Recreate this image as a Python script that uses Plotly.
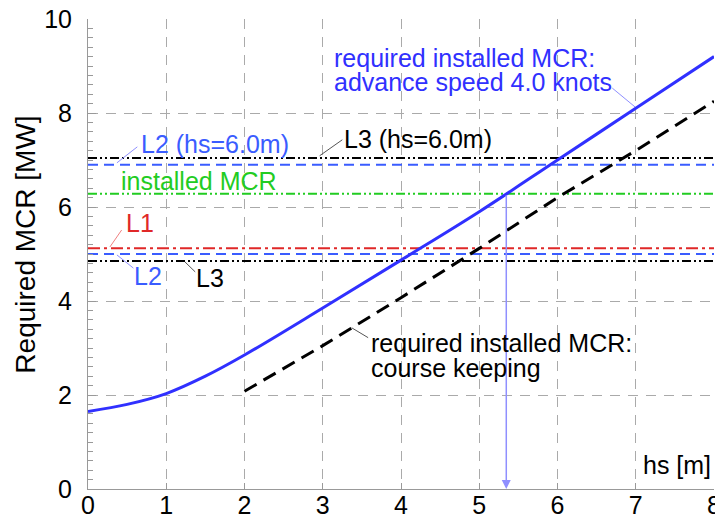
import numpy as np
import plotly.graph_objects as go

# ---- data ----
hs_adv = [0, 0.5, 1.0, 1.5, 2.0, 3.0, 4.0, 5.0, 6.0, 7.0, 8.0]
mcr_adv = [1.65, 1.80, 2.03, 2.40, 2.85, 3.85, 4.87, 5.90, 7.00, 8.10, 9.20]
hs_ck = [2.0, 3.0, 4.0, 5.0, 6.0, 7.0, 8.0]
mcr_ck = [2.08, 3.05, 4.07, 5.12, 6.20, 7.20, 8.25]

installed_mcr = 6.28
L1 = 5.12
L2 = 5.00
L3 = 4.85
L2_hs6 = 6.90
L3_hs6 = 7.04

x_ticks = [0, 1, 2, 3, 4, 5, 6, 7, 8]
y_ticks = [0, 2, 4, 6, 8, 10]

FONT = "Liberation Sans"
BLUE = "#3030ff"
BLUE_D = "#3a5cff"
RED = "#e02828"
GREEN = "#22cc22"
BLACK = "#000000"
GRID = "#aaaaaa"

fig = go.Figure()

def hline(v, color, dash, width=2):
    fig.add_trace(go.Scatter(x=[0, 8], y=[v, v], mode="lines",
                             line=dict(color=color, dash=dash, width=width),
                             showlegend=False, hoverinfo="skip"))

hline(L3_hs6, BLACK, "9px,3px,2px,3px,2px,3px")
hline(L2_hs6, BLUE_D, "10px,6px")
hline(installed_mcr, GREEN, "9px,3px,2px,3px,2px,3px")
hline(L1, RED, "12px,4px,3px,4px")
hline(L2, BLUE_D, "10px,6px")
hline(L3, BLACK, "9px,3px,2px,3px,2px,3px")

fig.add_trace(go.Scatter(x=hs_ck, y=mcr_ck, mode="lines",
                         line=dict(color=BLACK, dash="14px,8px", width=3),
                         showlegend=False, hoverinfo="skip"))
fig.add_trace(go.Scatter(x=hs_adv, y=mcr_adv, mode="lines",
                         line=dict(color=BLUE, width=3, shape="spline"),
                         showlegend=False, hoverinfo="skip"))

# intersection of required MCR (advance speed) with installed MCR
hs_cross = float(np.interp(installed_mcr, mcr_adv, hs_adv))
fig.add_annotation(x=hs_cross, y=0, ax=hs_cross, ay=installed_mcr,
                   xref="x", yref="y", axref="x", ayref="y", text="",
                   showarrow=True, arrowhead=2, arrowsize=1.2, arrowwidth=1.5,
                   arrowcolor="#8f8fff")

# text labels: (text, x, y, color)
labels = [
    ("required installed MCR:", 3.13, 9.18, BLUE),
    ("advance speed 4.0 knots", 3.13, 8.66, BLUE),
    ("L2 (hs=6.0m)", 0.66, 7.34, BLUE_D),
    ("L3 (hs=6.0m)", 3.26, 7.45, BLACK),
    ("installed MCR", 0.41, 6.55, GREEN),
    ("L1", 0.47, 5.66, RED),
    ("L2", 0.58, 4.53, BLUE_D),
    ("L3", 1.37, 4.49, BLACK),
    ("required installed MCR:", 3.60, 3.11, BLACK),
    ("course keeping", 3.60, 2.58, BLACK),
    ("hs [m]", 7.08, 0.52, BLACK),
]
for t, x, y, c in labels:
    fig.add_annotation(x=x, y=y, xref="x", yref="y", text=t, showarrow=False,
                       xanchor="left", yanchor="middle", borderpad=0,
                       font=dict(family=FONT, size=25, color=c))

# leader lines: (x0, y0, x1, y1, color)
leaders = [
    (6.70, 8.53, 6.99, 8.13, "#8f8fff"),
    (0.37, 6.94, 0.63, 7.28, "#8f8fff"),
    (2.96, 7.09, 3.25, 7.43, "#555555"),
    (0.28, 5.15, 0.43, 5.51, "#f08080"),
    (0.37, 4.98, 0.58, 4.70, "#8f8fff"),
    (1.24, 4.83, 1.37, 4.62, "#555555"),
    (3.37, 3.43, 3.58, 3.22, "#555555"),
]
for x0, y0, x1, y1, c in leaders:
    fig.add_shape(type="line", x0=x0, y0=y0, x1=x1, y1=y1, xref="x", yref="y",
                  line=dict(color=c, width=1))

fig.add_annotation(x=-0.099, y=0.52, xref="paper", yref="paper",
                   text="Required MCR [MW]", showarrow=False, textangle=-90,
                   xanchor="center", yanchor="middle",
                   font=dict(family=FONT, size=28, color=BLACK))

# page body has an 8px margin, so the figure is sized/offset accordingly
fig.update_layout(
    width=715, height=510,
    margin=dict(l=80, r=9, t=11, b=29),
    paper_bgcolor="white", plot_bgcolor="white",
    font=dict(family=FONT, size=25, color=BLACK),
    showlegend=False,
)
fig.update_xaxes(range=[0, 8], tickvals=x_ticks, ticktext=[str(v) for v in x_ticks],
                 showgrid=True, gridcolor=GRID, griddash="10px,8px", gridwidth=1,
                 showline=True, linecolor="#999999", linewidth=1,
                 ticks="inside", ticklen=6, tickcolor="#999999",
                 ticklabelstandoff=-6, zeroline=False, automargin=False,
                 ticklabeloverflow="allow",
                 tickfont=dict(family=FONT, size=25, color=BLACK))
fig.update_yaxes(range=[0, 10], tickvals=y_ticks, ticktext=[str(v) for v in y_ticks],
                 showgrid=True, gridcolor=GRID, griddash="10px,8px", gridwidth=1,
                 showline=True, linecolor="#999999", linewidth=1,
                 ticks="inside", ticklen=8, tickcolor="#999999",
                 minor=dict(dtick=0.2, ticks="inside", ticklen=5, tickcolor="#999999",
                            showgrid=False),
                 ticklabelstandoff=10, zeroline=False, automargin=False,
                 ticklabeloverflow="allow",
                 tickfont=dict(family=FONT, size=25, color=BLACK))

fig.write_html("out.html")
